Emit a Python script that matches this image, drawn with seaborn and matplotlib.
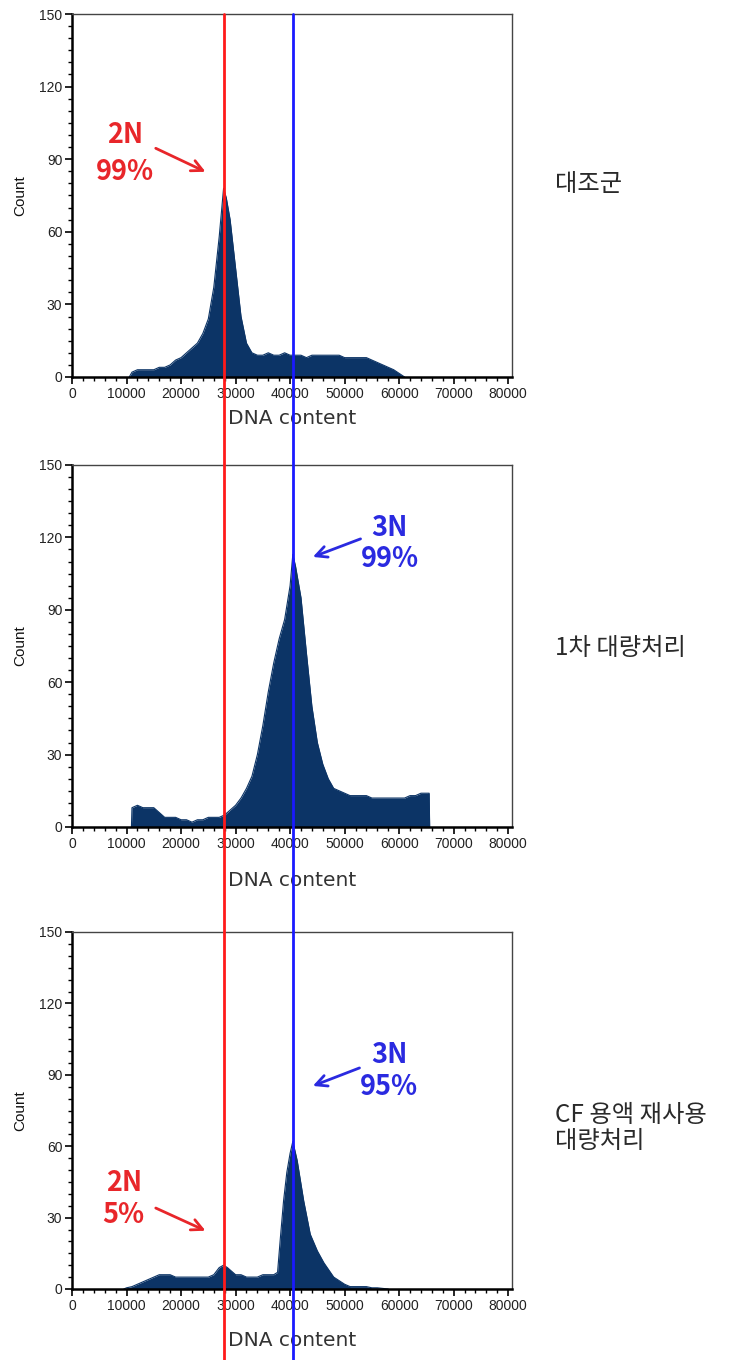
import numpy as np
import matplotlib
matplotlib.use("Agg")
import matplotlib.pyplot as plt
import matplotlib.transforms as mtransforms
from matplotlib.lines import Line2D
from matplotlib.ticker import MultipleLocator
import seaborn as sns

# DNA content histograms (x = DNA content, y = count)
ctrl_x = [10500, 11000, 12000, 13000, 14000, 15000, 16000, 17000, 18000, 19000,
          20000, 21000, 22000, 23000, 24000, 25000, 26000, 27000, 27800, 28300,
          29000, 30000, 31000, 32000, 33000, 34000, 35000, 36000, 37000, 38000,
          39000, 40000, 41000, 42000, 43000, 44000, 45000, 46000, 47000, 48000,
          49000, 50000, 51000, 52000, 53000, 54000, 55000, 56000, 57000, 58000,
          59000, 60000, 61000]
ctrl_count = [0, 2, 3, 3, 3, 3, 4, 4, 5, 7,
              8, 10, 12, 14, 18, 24, 37, 58, 78, 74,
              65, 45, 25, 14, 10, 9, 9, 10, 9, 9,
              10, 9, 9, 9, 8, 9, 9, 9, 9, 9,
              9, 8, 8, 8, 8, 8, 7, 6, 5, 4,
              3, 1.5, 0]

trt_x = [10900, 11000, 12000, 13000, 14000, 15000, 16000, 17000, 18000, 19000,
         20000, 21000, 22000, 23000, 24000, 25000, 26000, 27000, 28000, 29000,
         30000, 31000, 32000, 33000, 34000, 35000, 36000, 37000, 38000, 39000,
         40000, 40500, 41000, 42000, 43000, 44000, 45000, 46000, 47000, 48000,
         49000, 50000, 51000, 52000, 53000, 54000, 55000, 56000, 57000, 58000,
         59000, 60000, 61000, 62000, 63000, 64000, 65500, 65600]
trt_count = [0, 8, 9, 8, 8, 8, 6, 4, 4, 4,
             3, 3, 2, 3, 3, 4, 4, 4, 5, 7,
             9, 12, 16, 21, 30, 42, 56, 68, 78, 86,
             100, 113, 108, 95, 72, 50, 35, 26, 20, 16,
             15, 14, 13, 13, 13, 13, 12, 12, 12, 12,
             12, 12, 12, 13, 13, 14, 14, 0]

cf_x = [9500, 10000, 11000, 12000, 13000, 14000, 15000, 16000, 17000, 18000,
        19000, 20000, 21000, 22000, 23000, 24000, 25000, 26000, 27000, 27800,
        28500, 29000, 30000, 31000, 32000, 33000, 34000, 35000, 36000, 37000,
        37700, 38200, 38800, 39400, 40000, 40500, 41300, 42500, 43700, 45000,
        46200, 48000, 50000, 51000, 52000, 53000, 54000, 55000, 56000, 58000]
cf_count = [0, 0.5, 1, 2, 3, 4, 5, 6, 6, 6,
            5, 5, 5, 5, 5, 5, 5, 6, 9, 10,
            9, 8, 6, 6, 5, 5, 5, 6, 6, 6,
            7, 21, 37, 49, 57, 62, 54, 37, 23, 16,
            11, 5, 2, 1, 1, 1, 1, 0.5, 0.5, 0]

samples = ["대조군", "1차 대량처리", "CF 용액 재사용\n대량처리"]
xticks = [0, 10000, 20000, 30000, 40000, 50000, 60000, 70000, 80000]
yticks = [0, 30, 60, 90, 120, 150]
peak_2n = 27800
peak_3n = 40500

sns.set_style("ticks")
plt.rcParams['font.family'] = ['Liberation Sans', 'DejaVu Sans']

W, H = 749, 1360
fig = plt.figure(figsize=(W / 100, H / 100), dpi=100)

navy = "#0c3466"
red = "#e8262a"
blue = "#2a2ae0"

# axes boxes in pixels: (top, bottom)
boxes = [(14, 377), (465, 827), (932, 1289)]
left_px, right_px = 72, 512
series = [(ctrl_x, ctrl_count), (trt_x, trt_count), (cf_x, cf_count)]
label_y = [418, 880, 1340]
axes = []
for (top, bot), (xs, ys), ly in zip(boxes, series, label_y):
    ax = fig.add_axes([left_px / W, 1 - bot / H, (right_px - left_px) / W, (bot - top) / H])
    sns.lineplot(x=xs, y=ys, ax=ax, color=navy, linewidth=0.8, estimator=None)
    ax.fill_between(xs, ys, color=navy, linewidth=0)
    ax.set_xlim(0, 80700)
    ax.set_ylim(0, 150)
    ax.set_xticks(xticks)
    ax.set_yticks(yticks)
    ax.xaxis.set_minor_locator(MultipleLocator(2000))
    ax.yaxis.set_minor_locator(MultipleLocator(5))
    ax.tick_params(axis="both", which="major", length=5, width=1.2, labelsize=10,
                   pad=2, color="black", labelcolor="#222222")
    ax.tick_params(axis="both", which="minor", length=3, width=1.0, color="black")
    for s in ["left", "bottom"]:
        ax.spines[s].set_linewidth(1.8)
        ax.spines[s].set_color("black")
    for s in ["top", "right"]:
        ax.spines[s].set_linewidth(1.0)
        ax.spines[s].set_color("#444444")
    ax.set_xlabel("")
    ax.set_ylabel("")
    fig.text(20 / W, 1 - (top + bot) / 2 / H, "Count", rotation=90, fontsize=11,
             ha="center", va="center", color="#111111")
    fig.text((left_px + right_px) / 2 / W, 1 - ly / H, "DNA content",
             family="DejaVu Sans", fontsize=14.5, ha="center", va="center", color="#333333")
    axes.append(ax)

# sample names on the right
name_pos = [(555, 184), (555, 648), (555, 1128)]
for name, (px, py) in zip(samples, name_pos):
    fig.text(px / W, 1 - py / H, name, family=["Noto Sans CJK KR", "DejaVu Sans"],
             fontsize=17.5, ha="left", va="center", color="#2a2a2a", linespacing=1.0)

# reference lines across the whole figure
trans = mtransforms.blended_transform_factory(axes[0].transData, fig.transFigure)
for xv, col in [(peak_2n, "#ff1a1a"), (peak_3n, "#1a1aff")]:
    fig.add_artist(Line2D([xv, xv], [0, 1 - 14 / H], transform=trans, color=col,
                          linewidth=2.0, zorder=10))

lab_font = dict(family=["Noto Sans CJK KR", "DejaVu Sans"], fontsize=19.5,
                fontweight="bold", ha="center", va="center")
arrow_kw = dict(arrowstyle="->", lw=2.0, mutation_scale=20)


def mark(ax, lines, text_x, text_y, tail, tip, col):
    for t, ty in zip(lines, text_y):
        ax.text(text_x, ty, t, color=col, **lab_font)
    ax.annotate("", xy=tip, xytext=tail, arrowprops=dict(color=col, **arrow_kw))


mark(axes[0], ["2N", "99%"], 9700, [100, 84.7], (14900, 95), (24950, 84.3), red)
mark(axes[1], ["3N", "99%"], 58300, [124, 111], (53400, 119.8), (43700, 111.5), blue)
mark(axes[2], ["3N", "95%"], 58200, [98.3, 84.9], (53200, 93.3), (43700, 84.9), blue)
mark(axes[2], ["2N", "5%"], 9500, [44.5, 31.1], (14900, 34.5), (24950, 24), red)

fig.savefig("out.png", dpi=100, facecolor="white")
